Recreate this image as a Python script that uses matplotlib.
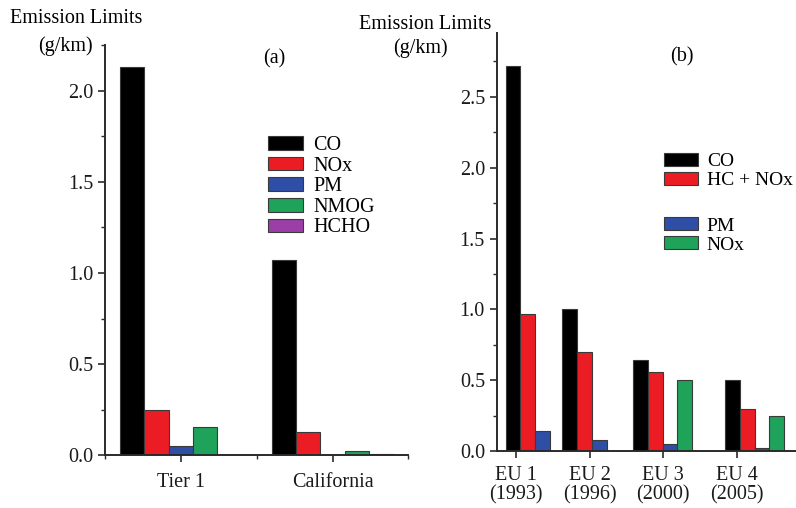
import matplotlib
matplotlib.use("Agg")
import matplotlib.pyplot as plt
from matplotlib.ticker import MultipleLocator
import numpy as np

plt.rcParams["font.family"] = ["Liberation Serif", "DejaVu Serif"]
plt.rcParams["font.size"] = 14.5

# panel (a): US limits
us_groups = ["Tier 1", "California"]
us_series = ["CO", "NOx", "PM", "NMOG", "HCHO"]
us_co = [2.13, 1.07]
us_nox = [0.25, 0.125]
us_pm = [0.05, 0.0]
us_nmog = [0.156, 0.025]
us_hcho = [0.0, 0.004]

# panel (b): EU limits
eu_groups = ["EU 1\n(1993)", "EU 2\n(1996)", "EU 3\n(2000)", "EU 4\n(2005)"]
eu_series = ["CO", "HC + NOx", "PM", "NOx"]
eu_co = [2.72, 1.0, 0.64, 0.5]
eu_hcnox = [0.97, 0.70, 0.56, 0.30]
eu_pm = [0.14, 0.08, 0.05, 0.025]
eu_nox = [0.0, 0.0, 0.5, 0.25]

colors = ["#000000", "#ec1c24", "#2f4ea6", "#1fa25a", "#9b3fa6"]
edge = "#3a3a3a"
fs = 14.5

fig = plt.figure(figsize=(7.96, 5.08), dpi=100)


def style_axes(ax):
    for s in ["top", "right"]:
        ax.spines[s].set_visible(False)
    for s in ["left", "bottom"]:
        ax.spines[s].set_linewidth(1.4)
        ax.spines[s].set_color("#2a2a2a")
    ax.tick_params(which="major", length=5, width=1.2, color="#2a2a2a",
                   labelcolor="#1a1a1a", labelsize=fs)
    ax.tick_params(which="minor", length=3, width=1.0, color="#2a2a2a")


# ---- (a)
ax1 = fig.add_axes([0.132, 0.104, 0.381, 0.807])
w1 = 0.16
x1 = np.arange(len(us_groups))
for i, vals in enumerate([us_co, us_nox, us_pm, us_nmog, us_hcho]):
    ax1.bar(x1 + (i - 2) * w1, vals, w1, color=colors[i], edgecolor=edge,
            linewidth=0.8, label=us_series[i])
ax1.set_xlim(-0.5, 1.5)
ax1.set_ylim(0, 2.25)
ax1.set_xticks(x1)
ax1.set_xticklabels(us_groups)
ax1.xaxis.set_minor_locator(MultipleLocator(0.5))
ax1.yaxis.set_minor_locator(MultipleLocator(0.25))
ax1.set_yticks([0, 0.5, 1.0, 1.5, 2.0])
style_axes(ax1)
ax1.tick_params(axis="x", which="major", pad=8)
h1, l1 = ax1.get_legend_handles_labels()
fig.legend(h1, l1, loc="upper left", bbox_to_anchor=(0.324, 0.752),
           frameon=False, borderpad=0, labelspacing=0.08, handlelength=1.75,
           handleheight=0.65, handletextpad=0.5, fontsize=fs)
fig.text(0.345, 0.885, "(a)", ha="center", va="center", fontsize=fs)

# ---- (b)
ax2 = fig.add_axes([0.624, 0.112, 0.376, 0.823])
w2 = 0.2
group_start = [-0.14, -0.37, -0.41, -0.16]  # left edge of first bar vs tick
x2 = np.arange(len(eu_groups)) + np.array(group_start)
for i, vals in enumerate([eu_co, eu_hcnox, eu_pm, eu_nox]):
    ax2.bar(x2 + i * w2, vals, w2, align="edge", color=colors[i],
            edgecolor=edge, linewidth=0.8, label=eu_series[i])
ax2.set_xlim(-0.26, 3.8)
ax2.set_ylim(0, 2.95)
ax2.set_xticks(np.arange(len(eu_groups)))
ax2.set_xticklabels(eu_groups, linespacing=1.0)
ax2.set_yticks([0, 0.5, 1.0, 1.5, 2.0, 2.5])
ax2.yaxis.set_minor_locator(MultipleLocator(0.25))
style_axes(ax2)
ax2.tick_params(axis="x", which="major", pad=6)
h2, l2 = ax2.get_legend_handles_labels()
for hs, ls, y in [(h2[:2], l2[:2], 0.718), (h2[2:], l2[2:], 0.591)]:
    fig.legend(hs, ls, loc="upper left", bbox_to_anchor=(0.822, y),
               frameon=False, borderpad=0, labelspacing=0.08, handlelength=1.75,
               handleheight=0.65, handletextpad=0.45, fontsize=14)
fig.text(0.857, 0.888, "(b)", ha="center", va="center", fontsize=fs)

# axis titles
fig.text(0.096, 0.963, "Emission Limits", ha="center", va="center", fontsize=fs)
fig.text(0.082, 0.909, "(g/km)", ha="center", va="center", fontsize=fs)
fig.text(0.534, 0.952, "Emission Limits", ha="center", va="center", fontsize=fs)
fig.text(0.528, 0.905, "(g/km)", ha="center", va="center", fontsize=fs)

fig.savefig("out.png", dpi=100)
